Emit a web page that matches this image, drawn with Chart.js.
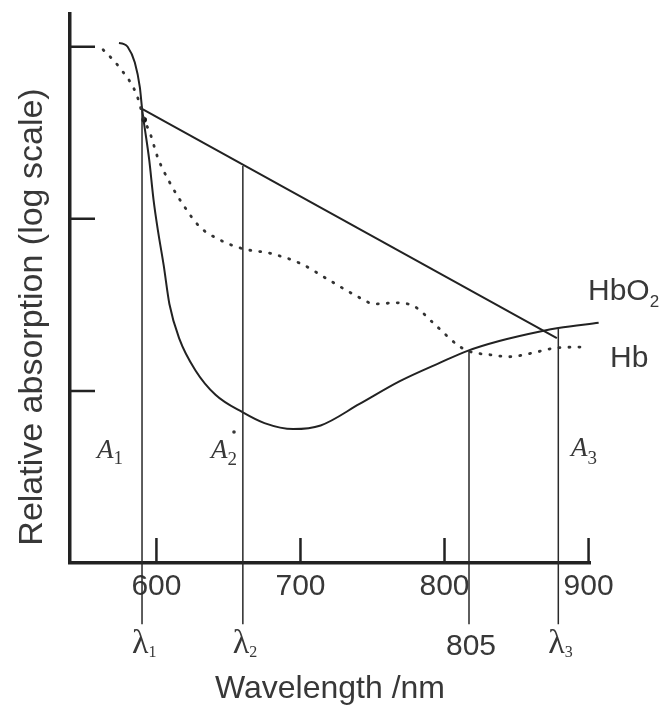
<!DOCTYPE html>
<html>
<head>
<meta charset="utf-8">
<title>Relative absorption of HbO2 and Hb</title>
<script src="https://cdn.jsdelivr.net/npm/chart.js"></script>
<style>
  html, body { margin: 0; padding: 0; background: #fff; }
  canvas { display: block; }
</style>
</head>
<body>
<canvas id="spectrum" width="663" height="706"></canvas>
<script>
// wavelength (nm) / relative absorption
const hbo2Nm  = [574, 577, 580, 585, 588.5, 590, 595, 598, 601, 605, 609, 616, 627, 641, 660, 675, 695, 714, 741, 769, 797, 816, 838, 868, 879, 907];
const hbo2Abs = [105, 104, 100, 81, 58, 44, 22, 12.9, 8.6, 5.4, 3.2, 2.0, 1.32, 0.95, 0.75, 0.65, 0.60, 0.63, 0.84, 1.14, 1.46, 1.71, 1.95, 2.23, 2.32, 2.49];

const hbNm  = [563, 571, 577, 582, 586.5, 591.5, 595.5, 601, 609, 618.5, 630, 644, 660, 679, 700, 720, 738, 752, 766, 779, 794, 809, 816, 832, 845, 861, 878, 900];
const hbAbs = [96, 82, 71, 62, 52, 37.6, 31.6, 22.6, 16.4, 12.1, 9.0, 7.55, 6.7, 6.3, 5.5, 4.4, 3.6, 3.2, 3.25, 3.1, 2.4, 1.85, 1.71, 1.62, 1.58, 1.66, 1.78, 1.80];

// straight chord lambda1 -> lambda3
const chordNm  = [590, 878];
const chordAbs = [43.6, 2.03];

// vertical marker lines (lambda1, lambda2, 805, lambda3)
const markerNm    = [590, 660, 817, 879];
const markerTop   = [43.6, 20.3, 1.71, 2.32];
const markerFoot  = 0.044;  // they run on below the axis
const markerLabel = [['λ', '1'], ['λ', '2'], ['805', ''], ['λ', '3']];

const dotNm  = [591.5];
const dotAbs = [37.6];

const wavelengthTicks = [600, 700, 800, 900];
const absorptionTicks = [1, 10, 100];

const ink = '#222';
const textInk = '#383838';
const sans = '"Liberation Sans", Arial, sans-serif';
const serif = '"Liberation Serif", "Times New Roman", serif';

const pts = (xs, ys) => xs.map((x, i) => ({ x: x, y: ys[i] }));

const markerSets = markerNm.map((nm, i) => ({
    data: [{ x: nm, y: markerTop[i] }, { x: nm, y: markerFoot }],
    borderColor: '#2a2a2a',
    borderWidth: 1.5,
    pointRadius: 0,
    clip: false
}));

// tick marks drawn inward, axis title and the lettering on the plot
const decor = {
    id: 'decor',
    afterDraw(chart) {
        const { ctx, scales: { x, y } } = chart;
        ctx.save();
        ctx.strokeStyle = ink;
        ctx.lineWidth = 2.5;
        ctx.beginPath();
        wavelengthTicks.forEach(v => {
            const px = x.getPixelForValue(v);
            ctx.moveTo(px, y.bottom);
            ctx.lineTo(px, y.bottom - 25);
        });
        absorptionTicks.forEach(v => {
            const py = y.getPixelForValue(v);
            ctx.moveTo(x.left, py);
            ctx.lineTo(x.left + 25, py);
        });
        ctx.stroke();

        ctx.fillStyle = textInk;

        ctx.save();
        ctx.translate(42, 317);
        ctx.rotate(-Math.PI / 2);
        ctx.font = '34px ' + sans;
        ctx.textAlign = 'center';
        ctx.textBaseline = 'alphabetic';
        ctx.fillText('Relative absorption (log scale)', 0, 0);
        ctx.restore();

        const withSub = (main, sub, left, base, font, subFont, drop) => {
            ctx.textAlign = 'left';
            ctx.textBaseline = 'alphabetic';
            ctx.font = font;
            ctx.fillText(main, left, base);
            const w = ctx.measureText(main).width;
            ctx.font = subFont;
            ctx.fillText(sub, left + w, base + drop);
        };

        // labels under the marker lines
        markerLabel.forEach((lab, i) => {
            const px = x.getPixelForValue(markerNm[i]);
            if (lab[1]) {
                withSub(lab[0], lab[1], px - 10, 653, '34px ' + serif, '16px ' + serif, 4);
            } else {
                ctx.font = '30px ' + sans;
                ctx.textAlign = 'center';
                ctx.textBaseline = 'alphabetic';
                ctx.fillText(lab[0], px + 2, 655);
            }
        });

        // curve names
        withSub('HbO', '2', 588, 300, '30px ' + sans, '17px ' + sans, 7);
        ctx.font = '30px ' + sans;
        ctx.fillText('Hb', 610, 367);

        // A1, A2*, A3
        const ital = 'italic 27px ' + serif;
        const italSub = '19px ' + serif;
        withSub('A', '1', 97, 458, ital, italSub, 6);
        withSub('A', '2', 211, 458, ital, italSub, 7);
        withSub('A', '3', 571, 456, ital, italSub, 8);
        ctx.beginPath();
        ctx.arc(234, 432, 1.8, 0, Math.PI * 2);
        ctx.fill();
        ctx.restore();
    }
};

new Chart(document.getElementById('spectrum'), {
    type: 'line',
    data: {
        datasets: [
            ...markerSets,
            {
                label: 'chord',
                data: pts(chordNm, chordAbs),
                borderColor: ink,
                borderWidth: 2,
                pointRadius: 0
            },
            {
                label: 'Hb',
                data: pts(hbNm, hbAbs),
                borderColor: '#333',
                borderWidth: 2.8,
                borderDash: [1, 9],
                borderCapStyle: 'round',
                cubicInterpolationMode: 'monotone',
                pointRadius: 0,
                clip: false
            },
            {
                label: 'HbO2',
                data: pts(hbo2Nm, hbo2Abs),
                borderColor: ink,
                borderWidth: 2,
                cubicInterpolationMode: 'monotone',
                pointRadius: 0,
                clip: false
            },
            {
                label: 'point',
                data: pts(dotNm, dotAbs),
                showLine: false,
                pointRadius: 2.8,
                pointBackgroundColor: '#111',
                pointBorderWidth: 0
            }
        ]
    },
    options: {
        responsive: false,
        animation: false,
        devicePixelRatio: 1,
        layout: { padding: { top: 14, right: 73, left: 0, bottom: 0 } },
        plugins: {
            legend: { display: false },
            tooltip: { enabled: false }
        },
        scales: {
            x: {
                type: 'linear',
                min: 540,
                max: 901,
                grid: { display: false, drawTicks: false },
                border: { display: true, color: ink, width: 3.5 },
                afterBuildTicks: s => { s.ticks = wavelengthTicks.map(v => ({ value: v })); },
                afterFit: s => { s.height = 143; },
                ticks: {
                    padding: 6,
                    color: textInk,
                    font: { family: sans, size: 30 },
                    callback: v => String(v)
                },
                title: {
                    display: true,
                    text: 'Wavelength /nm',
                    color: textInk,
                    font: { family: sans, size: 32, lineHeight: 1 },
                    padding: { top: 0, bottom: 1 }
                }
            },
            y: {
                type: 'logarithmic',
                min: 0.1,
                max: 155,
                grid: { display: false, drawTicks: false },
                border: { display: true, color: ink, width: 3.5 },
                ticks: { display: false },
                afterFit: s => { s.width = 70; }
            }
        }
    },
    plugins: [decor]
});
</script>
</body>
</html>
